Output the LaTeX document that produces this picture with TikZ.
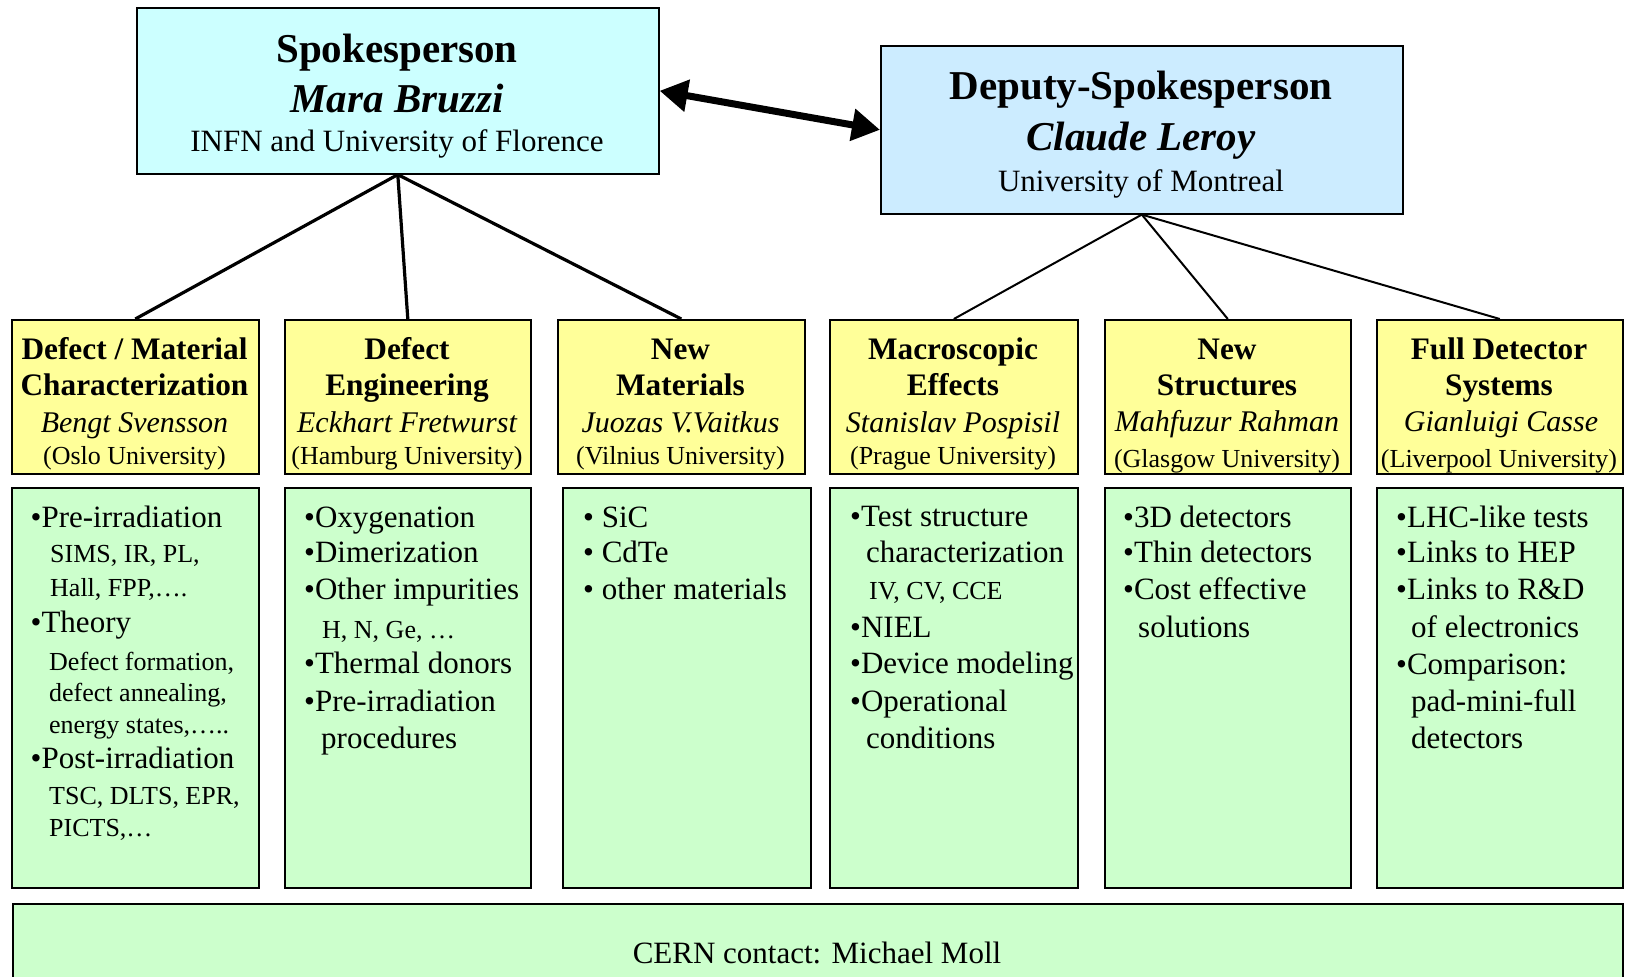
\documentclass[tikz,border=0pt]{standalone}
\usepackage{fontspec}
\setmainfont{Liberation Serif}
\usetikzlibrary{arrows.meta}
\definecolor{spkfill}{HTML}{CCFFFF}
\definecolor{depfill}{HTML}{CCECFF}
\definecolor{wpfill}{HTML}{FFFF99}
\definecolor{taskfill}{HTML}{CCFFCC}
\tikzset{
  boxframe/.style={draw=black, line width=1.6pt, inner sep=0pt, anchor=north west},
  headbig/.style={anchor=base, inner sep=0pt, font=\fontsize{41}{49}\selectfont\bfseries},
  headname/.style={anchor=base, inner sep=0pt, font=\fontsize{41}{49}\selectfont\bfseries\itshape},
  headinst/.style={anchor=base, inner sep=0pt, font=\fontsize{31}{37}\selectfont},
  wptitle/.style={anchor=base, inner sep=0pt, font=\fontsize{31.3}{37}\selectfont\bfseries},
  wpname/.style={anchor=base, inner sep=0pt, font=\fontsize{30}{36}\selectfont\itshape},
  wpinst/.style={anchor=base, inner sep=0pt, font=\fontsize{26}{31}\selectfont},
  itemtxt/.style={anchor=base west, inner sep=0pt, font=\fontsize{31}{37}\selectfont},
  subtxt/.style={anchor=base west, inner sep=0pt, font=\fontsize{26}{31}\selectfont},
  spkline/.style={line width=3.2pt},
  depline/.style={line width=2pt},
  bigarrow/.style={line width=7pt, {Triangle[length=28pt,width=31pt]}-{Triangle[length=28pt,width=31pt]}},
}
\newcommand\putline[5]{\node[#1] (#2) at (#3,#4) {#5};}
\begin{document}
\begin{tikzpicture}[x=1pt,y=-1pt]
\useasboundingbox (0,0) rectangle (1631,977);
% top boxes
\node[boxframe, fill=spkfill, minimum width=522pt, minimum height=166pt] (S) at (136,7) {};
\node[boxframe, fill=depfill, minimum width=522pt, minimum height=168pt] (D) at (880,45) {};
\putline{headbig}{S1}{397}{62}{Spokesperson}
\putline{headname}{S2}{397}{112}{Mara Bruzzi}
\putline{headinst}{S3}{397}{151}{INFN and University of Florence}
\putline{headbig}{D1}{1141}{99}{Deputy-Spokesperson}
\putline{headname}{D2}{1141}{150}{Claude Leroy}
\putline{headinst}{D3}{1141}{191}{University of Montreal}
% work package boxes
\foreach \nm/\x/\w in {1/11/247, 2/284/246, 3/557/247, 4/829/248, 5/1104/246, 6/1376/246}{
  \node[boxframe, fill=wpfill, minimum width=\w pt, minimum height=154pt] (Y\nm) at (\x,319) {};
}
\foreach \nm/\x/\w in {1/11/247, 2/284/246, 3/562/248, 4/829/248, 5/1104/246, 6/1376/246}{
  \node[boxframe, fill=taskfill, minimum width=\w pt, minimum height=400pt] (G\nm) at (\x,487) {};
}
\node[boxframe, fill=taskfill, minimum width=1610pt, minimum height=140pt] (B) at (12,903) {};
\putline{headinst}{B1}{817}{963}{CERN contact: Michael Moll}
% connectors
\draw[bigarrow] (S.east) -- (D.west);
\draw[spkline] (S.south) -- (Y1.north);
\draw[spkline] (S.south) -- (Y2.north);
\draw[spkline] (S.south) -- (Y3.north);
\draw[depline] (D.south) -- (Y4.north);
\draw[depline] (D.south) -- (Y5.north);
\draw[depline] (D.south) -- (Y6.north);
% WP titles
\putline{wptitle}{Y1a}{134.5}{359}{Defect / Material}
\putline{wptitle}{Y1b}{134.5}{395}{Characterization}
\putline{wpname}{Y1c}{134.5}{432}{Bengt Svensson}
\putline{wpinst}{Y1d}{134.5}{464}{(Oslo University)}
\putline{wptitle}{Y2a}{407}{359}{Defect}
\putline{wptitle}{Y2b}{407}{395}{Engineering}
\putline{wpname}{Y2c}{407}{432}{Eckhart Fretwurst}
\putline{wpinst}{Y2d}{407}{464}{(Hamburg University)}
\putline{wptitle}{Y3a}{680.5}{359}{New}
\putline{wptitle}{Y3b}{680.5}{395}{Materials}
\putline{wpname}{Y3c}{680.5}{432}{Juozas V.Vaitkus}
\putline{wpinst}{Y3d}{680.5}{464}{(Vilnius University)}
\putline{wptitle}{Y4a}{953}{359}{Macroscopic}
\putline{wptitle}{Y4b}{953}{395}{Effects}
\putline{wpname}{Y4c}{953}{432}{Stanislav Pospisil}
\putline{wpinst}{Y4d}{953}{464}{(Prague University)}
\putline{wptitle}{Y5a}{1227}{359}{New}
\putline{wptitle}{Y5b}{1227}{395}{Structures}
\putline{wpname}{Y5c}{1227}{431}{Mahfuzur Rahman}
\putline{wpinst}{Y5d}{1227}{467}{(Glasgow University)}
\putline{wptitle}{Y6a}{1499}{359}{Full Detector}
\putline{wptitle}{Y6b}{1499}{395}{Systems}
\putline{wpname}{Y6c}{1501}{431}{Gianluigi Casse}
\putline{wpinst}{Y6d}{1499}{467}{(Liverpool University)}
% task lists
\putline{itemtxt}{G1a}{30.5}{527}{•Pre-irradiation}
\putline{subtxt}{G1b}{50}{562}{SIMS, IR, PL,}
\putline{subtxt}{G1c}{50}{596}{Hall, FPP,….}
\putline{itemtxt}{G1d}{30.5}{632}{•Theory}
\putline{subtxt}{G1e}{49}{670}{Defect formation,}
\putline{subtxt}{G1f}{49}{701}{defect annealing,}
\putline{subtxt}{G1g}{49}{733}{energy states,…..}
\putline{itemtxt}{G1h}{30.5}{768}{•Post-irradiation}
\putline{subtxt}{G1i}{49}{804}{TSC, DLTS, EPR,}
\putline{subtxt}{G1j}{49}{836}{PICTS,…}
\putline{itemtxt}{G2a}{304}{527}{•Oxygenation}
\putline{itemtxt}{G2b}{304}{562}{•Dimerization}
\putline{itemtxt}{G2c}{304}{599}{•Other impurities}
\putline{subtxt}{G2d}{322}{638}{H, N, Ge, …}
\putline{itemtxt}{G2e}{304}{673}{•Thermal donors}
\putline{itemtxt}{G2f}{304}{711}{•Pre-irradiation}
\putline{itemtxt}{G2g}{321}{748}{procedures}
\putline{itemtxt}{G3a}{583}{527}{• SiC}
\putline{itemtxt}{G3b}{583}{562}{• CdTe}
\putline{itemtxt}{G3c}{583}{599}{• other materials}
\putline{itemtxt}{G4a}{850}{526}{•Test structure}
\putline{itemtxt}{G4b}{866}{562}{characterization}
\putline{subtxt}{G4c}{869}{599}{IV, CV, CCE}
\putline{itemtxt}{G4d}{850}{637}{•NIEL}
\putline{itemtxt}{G4e}{850}{673}{•Device modeling}
\putline{itemtxt}{G4f}{850}{711}{•Operational}
\putline{itemtxt}{G4g}{866}{748}{conditions}
\putline{itemtxt}{G5a}{1123}{527}{•3D detectors}
\putline{itemtxt}{G5b}{1123}{562}{•Thin detectors}
\putline{itemtxt}{G5c}{1123}{599}{•Cost effective}
\putline{itemtxt}{G5d}{1138}{637}{solutions}
\putline{itemtxt}{G6a}{1396}{527}{•LHC-like tests}
\putline{itemtxt}{G6b}{1396}{562}{•Links to HEP}
\putline{itemtxt}{G6c}{1396}{599}{•Links to R\&D}
\putline{itemtxt}{G6d}{1411}{637}{of electronics}
\putline{itemtxt}{G6e}{1396}{674}{•Comparison:}
\putline{itemtxt}{G6f}{1411}{711}{pad-mini-full}
\putline{itemtxt}{G6g}{1411}{748}{detectors}
\end{tikzpicture}
\end{document}
